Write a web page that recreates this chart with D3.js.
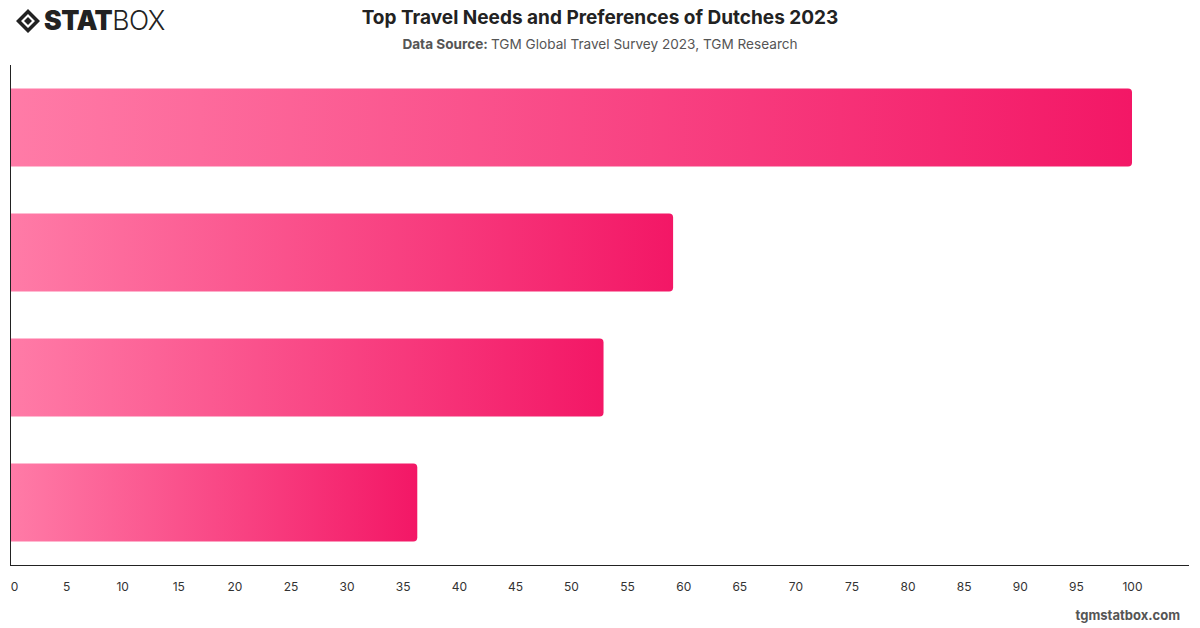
<html>
<head>
  <meta charset="utf-8">
  <title>Top Travel Needs and Preferences of Dutches 2023</title>
  <style>
    body { margin: 0; background: #fff; font-family: Inter, "Noto Sans", Arial, sans-serif; }
  </style>
  <script src="https://d3js.org/d3.v7.min.js"></script>
</head>
<body>
  <div id="chart"></div>
  <script>
    // Chart data (category labels are not shown in the picture)
    const categories = ["Need 1", "Need 2", "Need 3", "Need 4"];
    const values = [100, 59.1, 52.9, 36.3];
    const tickValues = d3.range(0, 101, 5);

    const W = 1200, H = 628;
    const margin = { top: 65, right: 11, bottom: 63, left: 10 };

    const svg = d3.select("#chart").append("svg")
      .attr("width", W).attr("height", H);

    // Gradient for the bars
    const grad = svg.append("defs").append("linearGradient")
      .attr("id", "barGrad")
      .attr("x1", "0%").attr("x2", "100%").attr("y1", "0%").attr("y2", "0%");
    grad.append("stop").attr("offset", "0%").attr("stop-color", "#ff7ba7");
    grad.append("stop").attr("offset", "100%").attr("stop-color", "#f31766");

    const x = d3.scaleLinear().domain([0, 100]).range([margin.left, 1132]);
    const y = d3.scaleBand().domain(categories)
      .range([margin.top, H - margin.bottom])
      .paddingInner(0.376).paddingOuter(0.188);

    // Bars with rounded right end
    const r = 4;
    svg.selectAll("path.bar").data(values).join("path")
      .attr("class", "bar")
      .attr("fill", "url(#barGrad)")
      .attr("d", (d, i) => {
        const x0 = x(0), x1 = x(d), y0 = y(categories[i]), h = y.bandwidth();
        return `M${x0},${y0}H${x1 - r}Q${x1},${y0} ${x1},${y0 + r}V${y0 + h - r}Q${x1},${y0 + h} ${x1 - r},${y0 + h}H${x0}Z`;
      });

    // Axis lines
    svg.append("line")
      .attr("x1", margin.left + 0.5).attr("x2", margin.left + 0.5)
      .attr("y1", margin.top).attr("y2", H - margin.bottom)
      .attr("stroke", "#222").attr("stroke-width", 1);
    svg.append("line")
      .attr("x1", margin.left).attr("x2", W - margin.right)
      .attr("y1", H - margin.bottom + 0.5).attr("y2", H - margin.bottom + 0.5)
      .attr("stroke", "#222").attr("stroke-width", 1);

    // X axis tick labels
    const xAxis = svg.append("g")
      .attr("transform", `translate(0,${H - margin.bottom})`)
      .call(d3.axisBottom(x).tickValues(tickValues).tickSize(0).tickPadding(17));
    xAxis.select(".domain").remove();
    xAxis.selectAll("text")
      .attr("font-family", "Inter, 'Noto Sans', Arial, sans-serif")
      .attr("font-size", 12).attr("fill", "#333");
    xAxis.selectAll("text").filter(d => d === 0).attr("dx", 4);

    // Title and subtitle
    svg.append("text")
      .attr("x", 600).attr("y", 24).attr("text-anchor", "middle")
      .attr("font-size", 19).attr("font-weight", 700).attr("fill", "#222")
      .text("Top Travel Needs and Preferences of Dutches 2023");
    const sub = svg.append("text")
      .attr("x", 600).attr("y", 49).attr("text-anchor", "middle")
      .attr("font-size", 13.6).attr("fill", "#555");
    sub.append("tspan").attr("font-weight", 700).text("Data Source: ");
    sub.append("tspan").text("TGM Global Travel Survey 2023, TGM Research");

    // Logo
    const logo = svg.append("g").attr("transform", "translate(16,9)");
    logo.append("path")
      .attr("d", "M12,0 L24,12 L12,24 L0,12 Z M12,5 L19,12 L12,19 L5,12 Z")
      .attr("fill", "#222").attr("fill-rule", "evenodd");
    logo.append("path").attr("d", "M12,8 L16,12 L12,16 L8,12 Z").attr("fill", "#222");
    const lt = logo.append("text").attr("x", 28).attr("y", 21)
      .attr("font-size", 26.5).attr("fill", "#222").attr("letter-spacing", -0.5);
    lt.append("tspan").attr("font-weight", 900).text("STAT");
    lt.append("tspan").attr("font-weight", 300).text("BOX");

    // Watermark
    svg.append("text")
      .attr("x", 1180).attr("y", 620).attr("text-anchor", "end")
      .attr("font-size", 13).attr("font-weight", 700).attr("fill", "#555")
      .text("tgmstatbox.com");
  </script>
</body>
</html>
